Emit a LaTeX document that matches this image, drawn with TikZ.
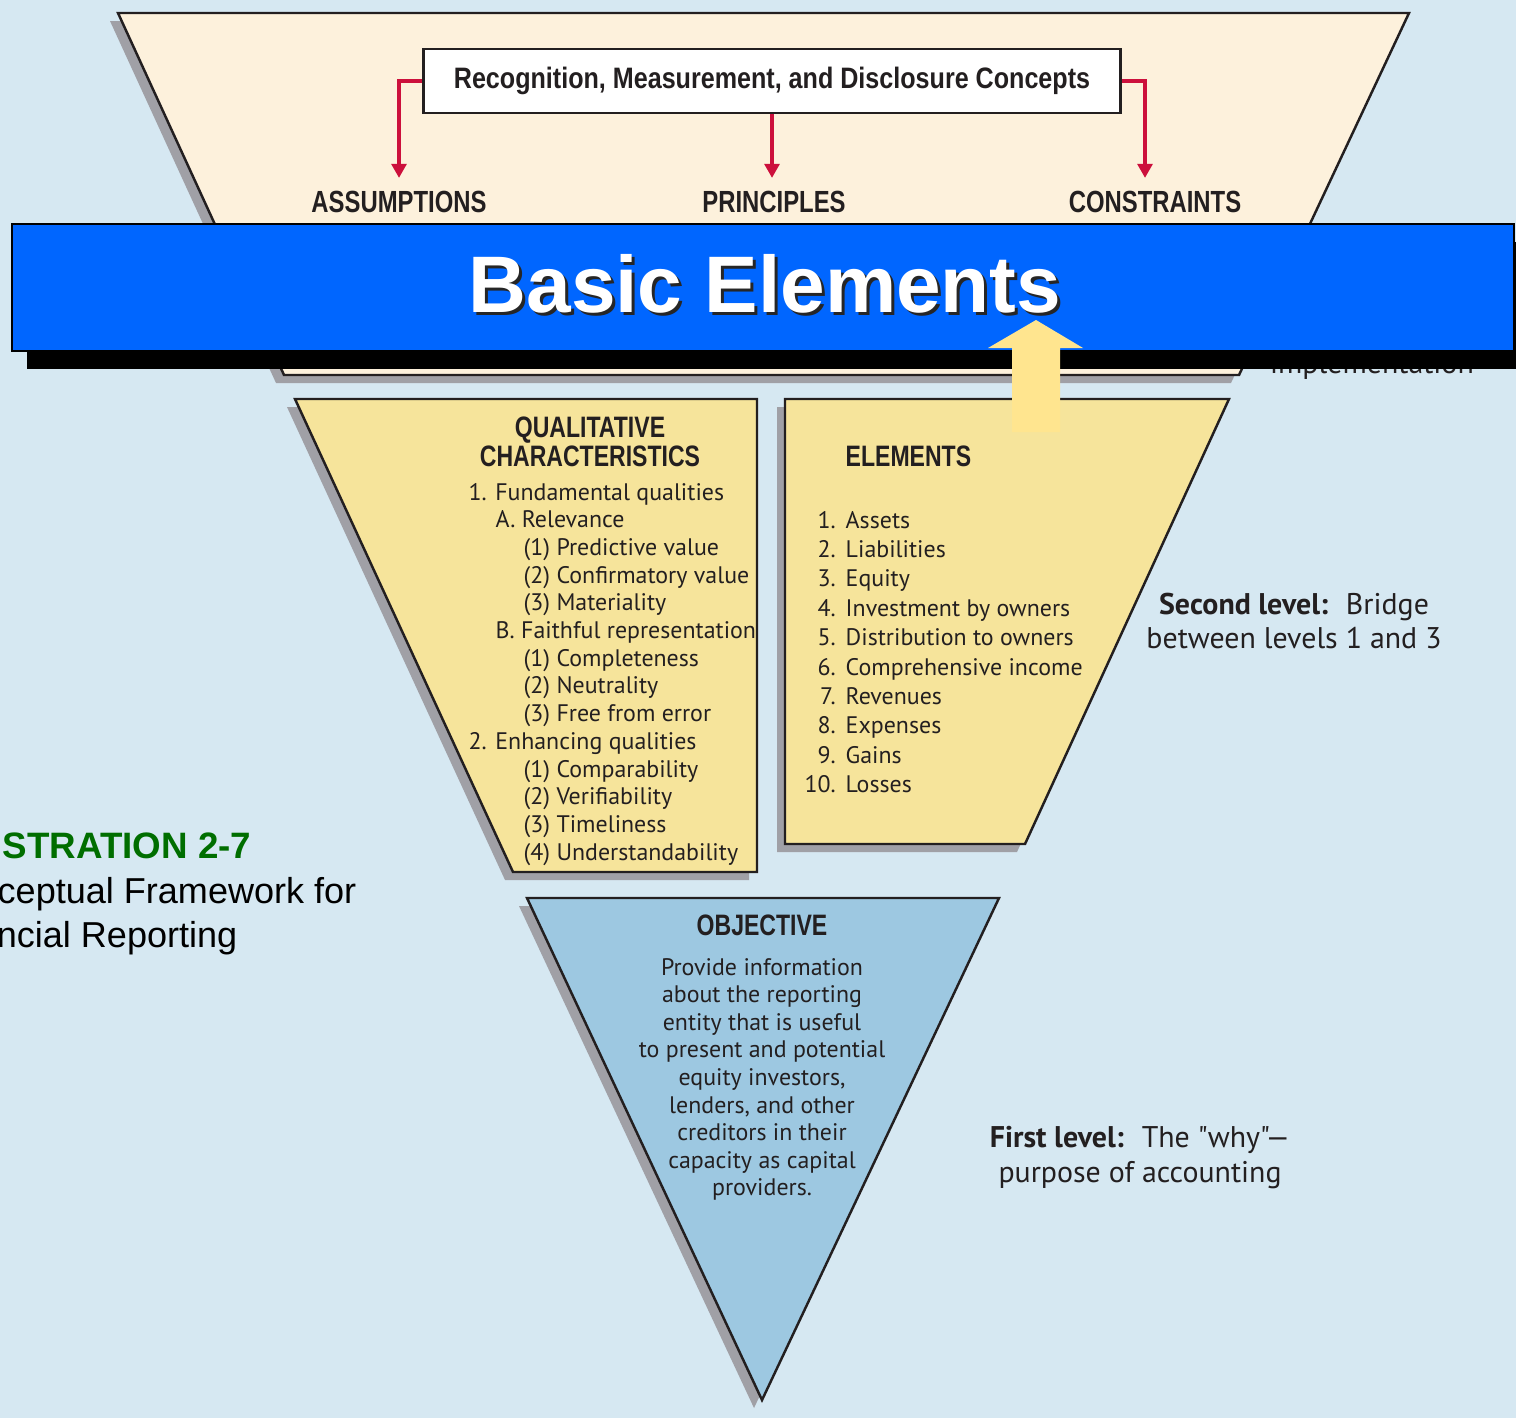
\documentclass[tikz,border=0pt]{standalone}
\usepackage{fontspec}
\setmainfont{Liberation Sans}
\newfontfamily\condfont[FakeStretch=0.78]{Liberation Sans}
\newfontfamily\boxfont[FakeStretch=0.85]{Liberation Sans}
\newfontfamily\listfont{PT Sans}
\usetikzlibrary{arrows.meta}
\definecolor{fondo}{RGB}{214,232,242}
\definecolor{crema}{RGB}{253,241,220}
\definecolor{amarillo}{RGB}{246,228,155}
\definecolor{celeste}{RGB}{157,200,225}
\definecolor{sombragris}{RGB}{160,160,166}
\definecolor{banda}{RGB}{0,102,255}
\definecolor{flechaclara}{RGB}{255,229,143}
\definecolor{rojo}{RGB}{204,16,60}
\definecolor{verde}{RGB}{0,110,0}
\definecolor{tinta}{RGB}{35,31,32}

\begin{document}
\begin{tikzpicture}[x=0.01cm, y=-0.01cm,
  sombra/.style={fill=sombragris, draw=none},
  panel/.style={draw=tinta, line width=0.7pt},
  caja/.style={draw=tinta, fill=white, line width=0.8pt, inner sep=0pt,
    minimum width=6.96cm, minimum height=0.64cm, text=tinta,
    font=\boxfont\bfseries\fontsize{8.4}{10}\selectfont},
  titulo/.style={inner sep=0pt, text=tinta, font=\condfont\bfseries\fontsize{8.7}{10}\selectfont},
  encabezado/.style={inner sep=0pt, text=tinta, font=\condfont\bfseries\fontsize{8.4}{10}\selectfont},
  lista/.style={inner sep=0pt, text=tinta, font=\listfont\fontsize{6.8}{8}\selectfont},
  nivel/.style={inner sep=0pt, text=tinta, font=\listfont\fontsize{8.5}{10}\selectfont},
  link/.style={draw=rojo, line width=1pt, -{Triangle[length=4pt, width=4.2pt]}, shorten >=1.2mm}
]
  \useasboundingbox (0,0) rectangle (1516,1418);
  % Fondo
  \fill[fondo] (0,0) rectangle (1516,1418);

  % Trapecio superior (tercer nivel)
  \fill[sombra, shift={(-8,8)}] (118,13) -- (1409,13) -- (1239,375) -- (284,375) -- cycle;
  \filldraw[panel, fill=crema] (118,13) -- (1409,13) -- (1239,375) -- (284,375) -- cycle;

  % Recuadro de conceptos y flechas
  \node[caja] (concepts) at (772,81) {Recognition, Measurement, and Disclosure Concepts};
  \node[titulo, anchor=base] (assumptions) at (399,212) {ASSUMPTIONS};
  \node[titulo, anchor=base] (principles) at (774,212) {PRINCIPLES};
  \node[titulo, anchor=base] (constraints) at (1155,212) {CONSTRAINTS};
  \draw[link] (concepts.west) -| (assumptions.north);
  \draw[link] (concepts.south) -- (concepts.south |- principles.north);
  \draw[link] (concepts.east) -| ([xshift=-1mm]constraints.north);

  % Texto tapado por la banda
  \node[nivel, anchor=base] (implementation) at (1372,373) {implementation};

  % Banda azul
  \fill[black] (27,242) rectangle (1530,369);
  \filldraw[fill=banda, draw=black, line width=0.8pt] (12,224) rectangle (1514,351);
  \node[anchor=base, inner sep=0pt, text=black!85, font=\bfseries\fontsize{22.8}{26}\selectfont]
    (basic-shadow) at (768,315) {Basic Elements};
  \node[anchor=base, inner sep=0pt, text=white, font=\bfseries\fontsize{22.8}{26}\selectfont]
    (basic) at (765,312) {Basic Elements};

  % Segundo nivel: caracteristicas cualitativas
  \fill[sombra, shift={(-8,8)}] (295,399) -- (757,399) -- (757,872) -- (513,872) -- cycle;
  \filldraw[panel, fill=amarillo] (295,399) -- (757,399) -- (757,872) -- (513,872) -- cycle;
  \node[encabezado, anchor=base] (qc-a) at (590,437) {QUALITATIVE};
  \node[encabezado, anchor=base] (qc-b) at (590,466) {CHARACTERISTICS};
  \foreach \dx/\txt [count=\i] in {0/1. Fundamental qualities, 27/A. Relevance,
      55/(1) Predictive value, 55/(2) Confirmatory value, 55/(3) Materiality,
      27/B. Faithful representation, 55/(1) Completeness, 55/(2) Neutrality,
      55/(3) Free from error, 0/2. Enhancing qualities, 55/(1) Comparability,
      55/(2) Verifiability, 55/(3) Timeliness, 55/(4) Understandability}
    \node[lista, anchor=base west] (qc-\i) at (468+\dx, 472.3+27.7*\i) {\txt};

  % Segundo nivel: elementos
  \fill[sombra, shift={(-8,8)}] (785,399) -- (1229,399) -- (1025,844) -- (785,844) -- cycle;
  \filldraw[panel, fill=amarillo] (785,399) -- (1229,399) -- (1025,844) -- (785,844) -- cycle;
  \node[encabezado, anchor=base west] (el-t) at (845,466) {ELEMENTS};
  \foreach \txt [count=\i] in {Assets, Liabilities, Equity, Investment by owners,
      Distribution to owners, Comprehensive income, Revenues, Expenses, Gains, Losses}
    \node[lista, anchor=base west] (el-\i) at (797, 498.6+29.4*\i)
      {\makebox[3.8mm][r]{\i.}\hspace{1mm}\txt};

  % Primer nivel: objetivo
  \fill[sombra, shift={(-8,8)}] (527,898) -- (999,898) -- (762,1400) -- cycle;
  \filldraw[panel, fill=celeste] (527,898) -- (999,898) -- (762,1400) -- cycle;
  \node[encabezado, anchor=base] (obj-t) at (762,935) {OBJECTIVE};
  \foreach \txt [count=\i] in {Provide information, about the reporting, entity that is useful,
      to present and potential, {equity investors,}, {lenders, and other}, creditors in their,
      capacity as capital, providers.}
    \node[lista, anchor=base] (obj-\i) at (762, 947.4+27.6*\i) {\txt};

  % Etiquetas de nivel
  \node[nivel, anchor=base] (second-a) at (1294,614) {\textbf{Second level:}\hspace{0.6em}Bridge};
  \node[nivel, anchor=base] (second-b) at (1294,648) {between levels 1 and 3};
  \node[nivel, anchor=base] (first-a) at (1140,1147) {\textbf{First level:}\hspace{0.6em}The "why"—};
  \node[nivel, anchor=base] (first-b) at (1140,1182) {purpose of accounting};

  % Titulo de la ilustracion (cortado)
  \node[anchor=base east, inner sep=0pt, text=verde, font=\bfseries\fontsize{10.45}{12}\selectfont]
    (illus) at (252,858) {STRATION 2-7};
  \node[anchor=base east, inner sep=0pt, font=\fontsize{10.25}{12}\selectfont]
    (frame-a) at (357,903) {ceptual Framework for};
  \node[anchor=base east, inner sep=0pt, font=\fontsize{10.25}{12}\selectfont]
    (frame-b) at (238,947) {ncial Reporting};

  % Flecha amarilla hacia la banda
  \fill[flechaclara] (1012,432) -- (1012,348) -- (988,348) -- (1036,320) -- (1083,348)
    -- (1060,348) -- (1060,432) -- cycle;
\end{tikzpicture}
\end{document}
